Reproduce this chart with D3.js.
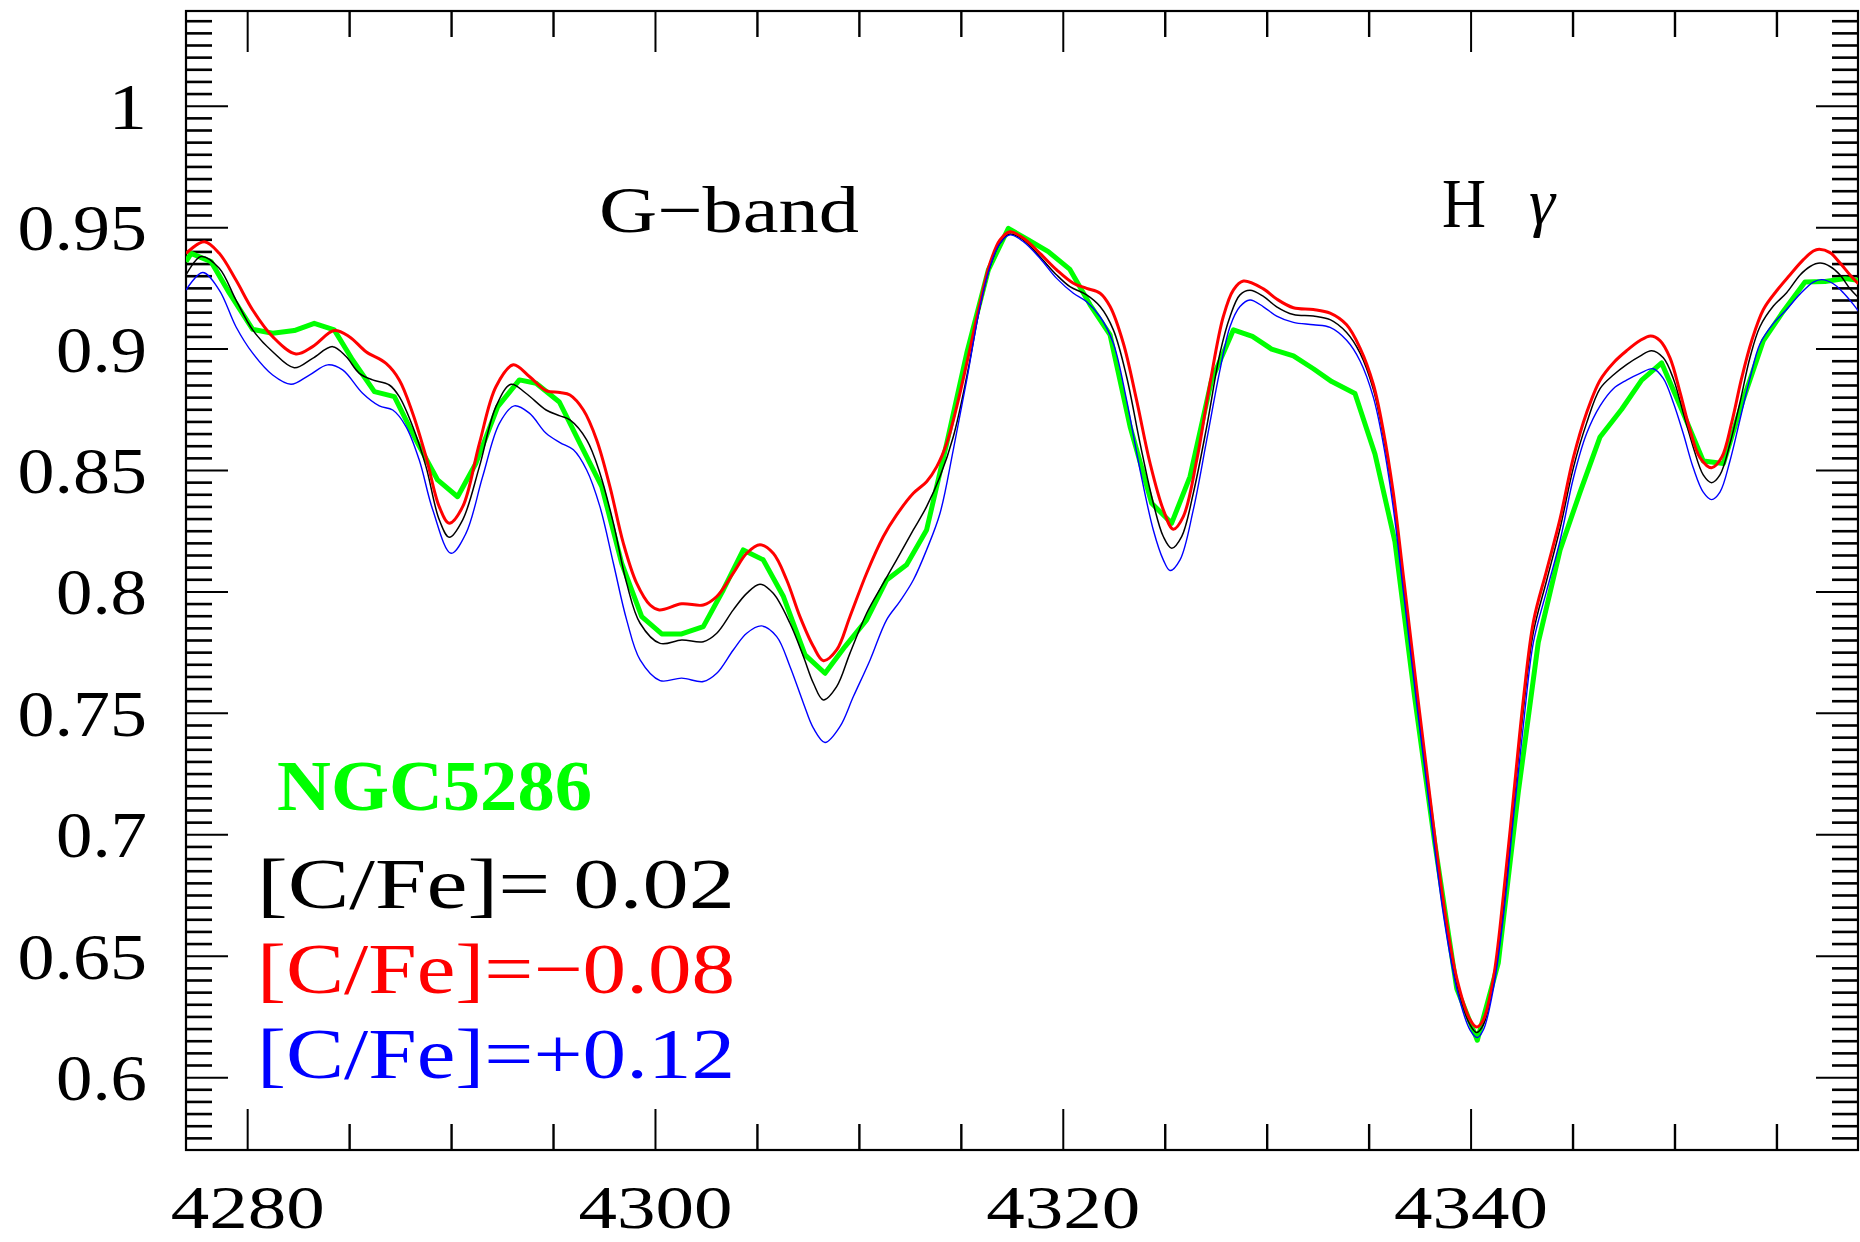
<!DOCTYPE html>
<html>
<head>
<meta charset="utf-8">
<script src="https://cdn.jsdelivr.net/npm/d3@7"></script>
<style>
  html, body { margin: 0; padding: 0; background: #fff; }
  svg { display: block; }
</style>
</head>
<body>
<svg id="chart" width="1860" height="1242"></svg>
<script>
// Wavelength (Angstrom) / normalised flux pairs.
// Observed integrated spectrum of NGC 5286 (coarser sampling, drawn as a polyline).
const obsNGC5286 = [
  [4277.00,0.9358],[4277.25,0.9392],[4278.23,0.9358],[4279.13,0.9228],[4280.27,0.9079],[4281.25,0.9063],
  [4282.31,0.9074],[4283.29,0.9104],[4284.27,0.9077],[4285.17,0.8953],[4286.24,0.8823],[4287.22,0.8802],
  [4288.30,0.8620],[4289.34,0.8459],[4290.32,0.8390],[4291.22,0.8528],[4292.29,0.8761],[4293.35,0.8871],
  [4294.17,0.8857],[4295.31,0.8780],[4296.32,0.8610],[4297.39,0.8432],[4298.37,0.8116],[4299.35,0.7896],
  [4300.33,0.7825],[4301.31,0.7825],[4302.37,0.7855],[4303.35,0.8006],[4304.33,0.8171],[4305.31,0.8130],
  [4306.30,0.7979],[4307.36,0.7739],[4308.34,0.7663],[4309.32,0.7773],[4310.38,0.7883],[4311.36,0.8047],
  [4312.34,0.8110],[4313.32,0.8253],[4314.31,0.8610],[4315.29,0.8981],[4316.35,0.9324],[4317.33,0.9495],
  [4318.31,0.9447],[4319.29,0.9399],[4320.35,0.9326],[4321.34,0.9180],[4322.32,0.9056],[4323.30,0.8679],
  [4324.36,0.8363],[4325.34,0.8281],[4326.24,0.8473],[4327.30,0.8871],[4328.37,0.9077],[4329.30,0.9050],
  [4330.24,0.8998],[4331.31,0.8970],[4332.29,0.8917],[4333.19,0.8864],[4334.33,0.8815],[4335.31,0.8566],
  [4336.29,0.8205],[4337.27,0.7556],[4338.25,0.6960],[4339.32,0.6365],[4340.33,0.6152],[4341.36,0.6471],
  [4342.34,0.7173],[4343.32,0.7790],[4344.39,0.8171],[4345.37,0.8409],[4346.35,0.8636],[4347.41,0.8750],
  [4348.39,0.8870],[4349.37,0.8941],[4350.35,0.8750],[4351.41,0.8537],[4352.40,0.8527],[4353.38,0.8792],
  [4354.36,0.9033],[4355.34,0.9154],[4356.40,0.9274],[4357.38,0.9276],[4358.36,0.9288],[4359.02,0.9281]
];

// Synthetic spectrum, [C/Fe] = 0.02
const modelC002 = [
  [4277.00,0.9303],[4277.74,0.9379],[4278.63,0.9331],[4279.45,0.9200],[4280.27,0.9077],[4281.25,0.8987],
  [4282.31,0.8921],[4283.21,0.8960],[4284.19,0.9008],[4284.85,0.8967],[4285.50,0.8898],[4286.15,0.8871],
  [4286.97,0.8850],[4287.46,0.8802],[4288.12,0.8679],[4288.77,0.8514],[4289.42,0.8295],[4289.91,0.8223],
  [4290.57,0.8295],[4291.39,0.8514],[4292.20,0.8761],[4292.94,0.8853],[4293.67,0.8816],[4294.66,0.8747],
  [4295.34,0.8723],[4295.83,0.8706],[4296.65,0.8624],[4297.30,0.8487],[4297.96,0.8281],[4298.61,0.8034],
  [4299.27,0.7869],[4300.25,0.7786],[4301.31,0.7800],[4302.37,0.7793],[4303.03,0.7828],[4303.84,0.7924],
  [4304.50,0.7992],[4305.15,0.8030],[4305.80,0.7992],[4306.62,0.7869],[4307.28,0.7732],[4307.77,0.7622],
  [4308.26,0.7553],[4308.91,0.7608],[4309.56,0.7745],[4310.38,0.7910],[4311.20,0.8034],[4311.85,0.8130],
  [4312.67,0.8253],[4313.32,0.8349],[4313.98,0.8473],[4314.63,0.8637],[4315.29,0.8884],[4315.94,0.9173],
  [4316.43,0.9337],[4316.92,0.9433],[4317.41,0.9472],[4318.07,0.9447],[4318.88,0.9378],[4319.70,0.9303],
  [4320.35,0.9255],[4321.17,0.9221],[4321.83,0.9173],[4322.48,0.9077],[4323.13,0.8884],[4323.79,0.8610],
  [4324.44,0.8363],[4324.93,0.8226],[4325.34,0.8178],[4325.83,0.8226],[4326.40,0.8404],[4327.06,0.8679],
  [4327.71,0.8981],[4328.20,0.9131],[4328.69,0.9221],[4329.18,0.9240],[4329.84,0.9215],[4330.49,0.9172],
  [4331.31,0.9140],[4332.29,0.9134],[4333.11,0.9119],[4333.92,0.9066],[4334.58,0.8981],[4335.23,0.8832],
  [4335.72,0.8640],[4336.21,0.8385],[4336.70,0.8045],[4337.36,0.7577],[4338.01,0.7130],[4338.66,0.6705],
  [4339.32,0.6386],[4339.97,0.6216],[4340.30,0.6184],[4340.63,0.6216],[4341.12,0.6386],[4341.61,0.6705],
  [4342.10,0.7109],[4342.59,0.7513],[4343.08,0.7832],[4343.73,0.8045],[4344.39,0.8260],[4345.04,0.8509],
  [4345.69,0.8693],[4346.35,0.8835],[4347.00,0.8891],[4347.65,0.8934],[4348.31,0.8969],[4348.88,0.8991],
  [4349.45,0.8962],[4349.94,0.8877],[4350.43,0.8736],[4350.92,0.8594],[4351.41,0.8480],[4351.82,0.8448],
  [4352.23,0.8480],[4352.72,0.8608],[4353.21,0.8778],[4353.70,0.8962],[4354.19,0.9090],[4354.85,0.9175],
  [4355.50,0.9230],[4356.16,0.9303],[4356.65,0.9338],[4357.14,0.9352],[4357.63,0.9338],[4358.12,0.9303],
  [4358.61,0.9246],[4359.02,0.9210]
];

// Synthetic spectrum, [C/Fe] = -0.08
const modelCm008 = [
  [4277.00,0.9392],[4277.90,0.9440],[4278.63,0.9392],[4279.45,0.9282],[4280.27,0.9159],[4281.25,0.9049],
  [4282.39,0.8978],[4283.21,0.9008],[4284.27,0.9074],[4285.01,0.9049],[4285.83,0.8987],[4286.81,0.8939],
  [4287.46,0.8871],[4288.12,0.8733],[4288.77,0.8555],[4289.42,0.8349],[4289.91,0.8281],[4290.57,0.8349],
  [4291.39,0.8610],[4292.20,0.8843],[4293.05,0.8933],[4293.84,0.8885],[4294.66,0.8827],[4295.34,0.8819],
  [4295.83,0.8809],[4296.49,0.8747],[4297.14,0.8624],[4297.79,0.8432],[4298.45,0.8198],[4299.10,0.8034],
  [4299.76,0.7944],[4300.21,0.7924],[4301.31,0.7949],[4302.37,0.7944],[4303.03,0.7979],[4303.84,0.8075],
  [4304.50,0.8157],[4305.15,0.8192],[4305.80,0.8157],[4306.46,0.8047],[4307.11,0.7896],[4307.77,0.7773],
  [4308.26,0.7715],[4308.91,0.7759],[4309.56,0.7896],[4310.38,0.8075],[4311.20,0.8226],[4311.85,0.8315],
  [4312.67,0.8404],[4313.32,0.8452],[4313.82,0.8514],[4314.31,0.8610],[4314.80,0.8761],[4315.29,0.8939],
  [4315.94,0.9186],[4316.43,0.9351],[4316.92,0.9447],[4317.41,0.9481],[4318.07,0.9454],[4318.88,0.9392],
  [4319.70,0.9324],[4320.52,0.9269],[4321.17,0.9248],[4321.83,0.9228],[4322.32,0.9173],[4322.97,0.9022],
  [4323.62,0.8788],[4324.28,0.8528],[4324.93,0.8336],[4325.42,0.8256],[4325.91,0.8308],[4326.57,0.8541],
  [4327.22,0.8857],[4327.87,0.9131],[4328.37,0.9242],[4328.86,0.9278],[4329.84,0.9246],[4330.49,0.9204],
  [4331.31,0.9168],[4332.29,0.9161],[4333.11,0.9146],[4333.92,0.9098],[4334.58,0.9002],[4335.23,0.8853],
  [4335.72,0.8662],[4336.21,0.8406],[4336.70,0.8066],[4337.36,0.7598],[4338.01,0.7152],[4338.66,0.6726],
  [4339.32,0.6408],[4339.97,0.6237],[4340.30,0.6206],[4340.63,0.6237],[4341.12,0.6408],[4341.61,0.6748],
  [4342.10,0.7152],[4342.59,0.7556],[4343.08,0.7875],[4343.73,0.8087],[4344.39,0.8300],[4345.04,0.8551],
  [4345.69,0.8736],[4346.35,0.8870],[4347.00,0.8941],[4347.65,0.8991],[4348.31,0.9033],[4348.83,0.9052],
  [4349.29,0.9033],[4349.78,0.8962],[4350.27,0.8821],[4350.76,0.8665],[4351.25,0.8551],[4351.82,0.8509],
  [4352.31,0.8551],[4352.80,0.8693],[4353.29,0.8877],[4353.79,0.9033],[4354.36,0.9161],[4355.01,0.9238],
  [4355.66,0.9303],[4356.32,0.9366],[4356.81,0.9402],[4357.10,0.9409],[4357.63,0.9395],[4358.12,0.9352],
  [4358.61,0.9303],[4359.02,0.9267]
];

// Synthetic spectrum, [C/Fe] = +0.12
const modelCp012 = [
  [4277.00,0.9241],[4277.82,0.9313],[4278.63,0.9241],[4279.45,0.9090],[4280.27,0.8981],[4281.25,0.8891],
  [4282.15,0.8853],[4283.05,0.8891],[4283.95,0.8933],[4284.68,0.8912],[4285.66,0.8816],[4286.48,0.8764],
  [4287.14,0.8747],[4287.79,0.8679],[4288.44,0.8541],[4289.10,0.8336],[4290.00,0.8157],[4290.73,0.8239],
  [4291.55,0.8473],[4292.37,0.8692],[4293.10,0.8764],[4293.84,0.8734],[4294.66,0.8651],[4295.34,0.8613],
  [4296.00,0.8583],[4296.65,0.8500],[4297.30,0.8349],[4297.96,0.8116],[4298.61,0.7883],[4299.27,0.7718],
  [4300.25,0.7633],[4301.31,0.7643],[4302.37,0.7629],[4303.03,0.7663],[4303.84,0.7759],[4304.50,0.7828],
  [4305.23,0.7858],[4305.97,0.7814],[4306.62,0.7691],[4307.28,0.7540],[4307.77,0.7437],[4308.34,0.7378],
  [4309.07,0.7443],[4309.73,0.7567],[4310.55,0.7718],[4311.36,0.7883],[4312.02,0.7960],[4312.67,0.8047],
  [4313.32,0.8171],[4313.98,0.8322],[4314.63,0.8583],[4315.29,0.8871],[4315.94,0.9173],[4316.43,0.9337],
  [4316.92,0.9433],[4317.41,0.9468],[4318.07,0.9440],[4318.88,0.9372],[4319.70,0.9289],[4320.52,0.9228],
  [4321.17,0.9193],[4321.83,0.9131],[4322.48,0.9022],[4323.13,0.8788],[4323.79,0.8500],[4324.44,0.8253],
  [4324.93,0.8130],[4325.26,0.8086],[4325.75,0.8130],[4326.40,0.8336],[4327.06,0.8624],[4327.71,0.8912],
  [4328.20,0.9090],[4328.69,0.9173],[4329.18,0.9200],[4329.84,0.9172],[4330.49,0.9134],[4331.31,0.9108],
  [4332.29,0.9098],[4333.11,0.9087],[4333.92,0.9034],[4334.58,0.8949],[4335.23,0.8800],[4335.72,0.8608],
  [4336.21,0.8343],[4336.70,0.8002],[4337.36,0.7535],[4338.01,0.7098],[4338.66,0.6673],[4339.32,0.6365],
  [4339.97,0.6195],[4340.33,0.6163],[4340.63,0.6195],[4341.12,0.6365],[4341.61,0.6663],[4342.10,0.7067],
  [4342.59,0.7450],[4343.08,0.7790],[4343.73,0.8002],[4344.39,0.8210],[4345.04,0.8466],[4345.69,0.8650],
  [4346.35,0.8764],[4347.00,0.8835],[4347.65,0.8870],[4348.31,0.8898],[4348.96,0.8917],[4349.45,0.8877],
  [4349.94,0.8778],[4350.43,0.8650],[4350.92,0.8509],[4351.41,0.8409],[4351.82,0.8378],[4352.23,0.8409],
  [4352.72,0.8537],[4353.21,0.8707],[4353.70,0.8877],[4354.19,0.9019],[4354.85,0.9104],[4355.50,0.9161],
  [4356.16,0.9225],[4356.81,0.9274],[4357.22,0.9284],[4357.79,0.9267],[4358.28,0.9230],[4358.77,0.9182],
  [4359.02,0.9154]
];

// Axis ranges and tick values
const waveDomain = [4277, 4359];
const fluxDomain = [0.57, 1.039];
const xMajorTicks = [4280, 4300, 4320, 4340];
const xMinorTicks = [4285, 4290, 4295, 4305, 4310, 4315, 4325, 4330, 4335, 4345, 4350, 4355];
const yMajorTicks = [0.6, 0.65, 0.7, 0.75, 0.8, 0.85, 0.9, 0.95, 1.0];
const yMinorTicks = d3.range(115, 208).map(i => i / 200).filter(v => Math.round(v * 200) % 10 !== 0);

// Annotations
const featureLabels = ["G\u2212band", "H", "\u03b3"];
const legendTitle = "NGC5286";
const legendLines = [
  { text: "[C/Fe]= 0.02", color: "#000000" },
  { text: "[C/Fe]=\u22120.08", color: "#ff0000" },
  { text: "[C/Fe]=+0.12", color: "#0000ff" }
];

const svg = d3.select("#chart");
svg.append("rect").attr("width", 1860).attr("height", 1242).attr("fill", "#fff");

const plot = { left: 186, right: 1858, top: 11, bottom: 1150 };
const x = d3.scaleLinear().domain(waveDomain).range([plot.left, plot.right]);
const y = d3.scaleLinear().domain(fluxDomain).range([plot.bottom, plot.top]);

svg.append("clipPath").attr("id", "plotClip")
  .append("rect")
  .attr("x", plot.left).attr("y", plot.top)
  .attr("width", plot.right - plot.left).attr("height", plot.bottom - plot.top);

// ---- ticks (all pointing into the frame) ----
function drawTicks(axisGen, tx, ty, width) {
  const g = svg.append("g").attr("transform", `translate(${tx},${ty})`).call(axisGen);
  g.select(".domain").remove();
  g.selectAll(".tick line").attr("stroke", "#000").attr("stroke-width", width);
  return g;
}
const MAJ = 41, MIN = 26;
// minor
drawTicks(d3.axisBottom(x).tickValues(xMinorTicks).tickSize(-MIN).tickFormat(""), 0, plot.bottom, 2.4);
drawTicks(d3.axisTop(x).tickValues(xMinorTicks).tickSize(-MIN).tickFormat(""), 0, plot.top, 2.4);
drawTicks(d3.axisLeft(y).tickValues(yMinorTicks).tickSize(-MIN).tickFormat(""), plot.left, 0, 2.6);
drawTicks(d3.axisRight(y).tickValues(yMinorTicks).tickSize(-MIN).tickFormat(""), plot.right, 0, 2.6);
// major
const xAxisG = drawTicks(d3.axisBottom(x).tickValues(xMajorTicks).tickSize(-MAJ).tickFormat(d3.format("d")), 0, plot.bottom, 2);
drawTicks(d3.axisTop(x).tickValues(xMajorTicks).tickSize(-MAJ).tickFormat(""), 0, plot.top, 2);
const yAxisG = drawTicks(d3.axisLeft(y).tickValues(yMajorTicks).tickSize(-(MAJ + 1)).tickFormat(d => String(+d.toFixed(2))), plot.left, 0, 2);
drawTicks(d3.axisRight(y).tickValues(yMajorTicks).tickSize(-(MAJ + 1)).tickFormat(""), plot.right, 0, 2);

const serif = "'Liberation Serif', serif";
const digitW = 38.5, dotW = 14;
const labelWidth = s => s.split("").reduce((w, c) => w + (c === "." ? dotW : digitW), 0);

xAxisG.selectAll(".tick text")
  .attr("y", 78).attr("dy", null)
  .attr("fill", "#000")
  .attr("font-family", serif)
  .attr("font-size", 61)
  .attr("text-anchor", "middle")
  .attr("textLength", function () { return labelWidth(this.textContent); })
  .attr("lengthAdjust", "spacingAndGlyphs");

yAxisG.selectAll(".tick text")
  .attr("x", -39).attr("y", 22.5).attr("dy", null)
  .attr("fill", "#000")
  .attr("font-family", serif)
  .attr("font-size", 66)
  .attr("text-anchor", "end")
  .attr("textLength", function () { return labelWidth(this.textContent); })
  .attr("lengthAdjust", "spacingAndGlyphs");

// ---- frame ----
svg.append("rect")
  .attr("x", plot.left).attr("y", plot.top)
  .attr("width", plot.right - plot.left).attr("height", plot.bottom - plot.top)
  .attr("fill", "none").attr("stroke", "#000").attr("stroke-width", 2.2);

// ---- spectra ----
const lines = svg.append("g").attr("clip-path", "url(#plotClip)");
const smooth = d3.line().x(d => x(d[0])).y(d => y(d[1])).curve(d3.curveCatmullRom.alpha(0.5));
const poly = d3.line().x(d => x(d[0])).y(d => y(d[1]));

lines.append("path").datum(obsNGC5286).attr("d", poly)
  .attr("fill", "none").attr("stroke", "#00ff00").attr("stroke-width", 5).attr("stroke-linejoin", "round");
lines.append("path").datum(modelC002).attr("d", smooth)
  .attr("fill", "none").attr("stroke", "#000").attr("stroke-width", 1.5);
lines.append("path").datum(modelCm008).attr("d", smooth)
  .attr("fill", "none").attr("stroke", "#ff0000").attr("stroke-width", 3);
lines.append("path").datum(modelCp012).attr("d", smooth)
  .attr("fill", "none").attr("stroke", "#0000ff").attr("stroke-width", 1.4);

// ---- annotations ----
svg.append("text").attr("x", 599).attr("y", 232)
  .attr("font-family", serif).attr("font-size", 66).attr("fill", "#000")
  .attr("textLength", 260).attr("lengthAdjust", "spacingAndGlyphs")
  .text(featureLabels[0]);

const hg = svg.append("text").attr("y", 227).attr("fill", "#000");
hg.append("tspan").attr("x", 1442).attr("font-family", serif).attr("font-size", 69)
  .attr("textLength", 44).attr("lengthAdjust", "spacingAndGlyphs").text(featureLabels[1]);
hg.append("tspan").attr("x", 1529).attr("y", 224).attr("font-family", serif)
  .attr("font-style", "italic").attr("font-size", 66).text(featureLabels[2]);

svg.append("text").attr("x", 277).attr("y", 810)
  .attr("font-family", serif).attr("font-weight", "bold").attr("font-size", 72).attr("fill", "#00ff00")
  .attr("textLength", 315).attr("lengthAdjust", "spacingAndGlyphs")
  .text(legendTitle);

const legendBase = [908, 993, 1078];
svg.selectAll("text.legend").data(legendLines).join("text")
  .attr("class", "legend")
  .attr("x", 257).attr("y", (d, i) => legendBase[i])
  .attr("font-family", serif).attr("font-size", 71)
  .attr("fill", d => d.color)
  .attr("textLength", 478).attr("lengthAdjust", "spacingAndGlyphs")
  .attr("xml:space", "preserve")
  .text(d => d.text);
</script>
</body>
</html>
